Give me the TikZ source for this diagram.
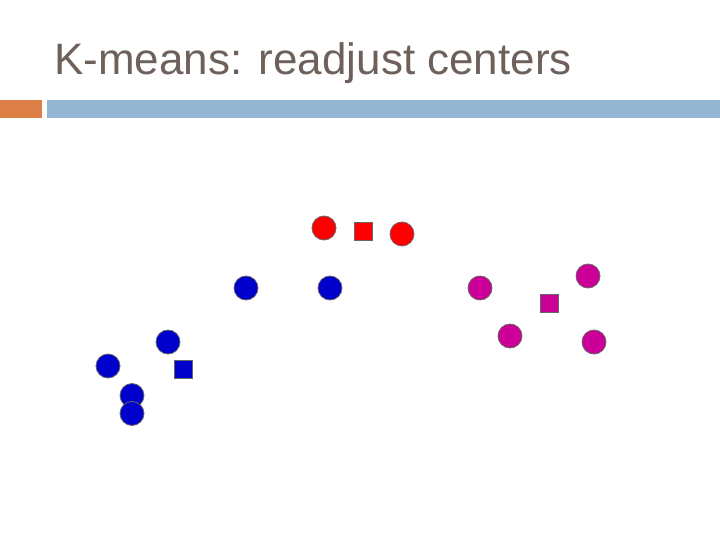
\documentclass[tikz,border=0pt]{standalone}
\usepackage{fontspec}
\setmainfont{Liberation Sans}
\usepackage{xcolor}
\usetikzlibrary{positioning}

\definecolor{titlegrey}{HTML}{6E615B}
\definecolor{barorange}{HTML}{DD8047}
\definecolor{barblue}{HTML}{94B6D2}
\definecolor{ptblue}{HTML}{0000CC}
\definecolor{ptred}{HTML}{FF0000}
\definecolor{ptmag}{HTML}{CC0099}

\begin{document}
\begin{tikzpicture}[x=1pt, y=-1pt,
		dot/.style={circle, draw=black!60, line width=0.8pt, minimum size=24pt, inner sep=0pt},
		ctr/.style={rectangle, draw=black!60, line width=0.8pt, minimum size=18pt, inner sep=0pt}]
		\useasboundingbox (0,0) rectangle (720,540);
		
		% Title and bars
		\node (title) [anchor=base west, inner sep=0pt, text=titlegrey, font=\fontsize{44}{50}\selectfont] at (54,75) {K-means: readjust centers};
		\fill[barorange] (0,100) rectangle (42,118);
		\fill[barblue] (47,100) rectangle (720,118);
		
		% Red cluster
		\node (r1) [dot, fill=ptred] at (324,228) {};
		\node (r2) [dot, fill=ptred] at (402,234) {};
		\node (rc) [ctr, fill=ptred] at (363.5,231.3) {};
		
		% Blue cluster
		\node (b1) [dot, fill=ptblue] at (246,288) {};
		\node (b2) [dot, fill=ptblue] at (330,288) {};
		\node (b3) [dot, fill=ptblue] at (168,342) {};
		\node (b4) [dot, fill=ptblue] at (108,366) {};
		\node (b5) [dot, fill=ptblue] at (132,395.5) {};
		\node (b6) [dot, fill=ptblue] at (132,413.5) {};
		\node (bc) [ctr, fill=ptblue] at (183.5,369) {};
		
		% Magenta cluster
		\node (m1) [dot, fill=ptmag] at (480,288) {};
		\node (m2) [dot, fill=ptmag] at (588,276) {};
		\node (m3) [dot, fill=ptmag] at (510,336) {};
		\node (m4) [dot, fill=ptmag] at (594,342) {};
		\node (mc) [ctr, fill=ptmag] at (549,303) {};
	\end{tikzpicture}
\end{document}
